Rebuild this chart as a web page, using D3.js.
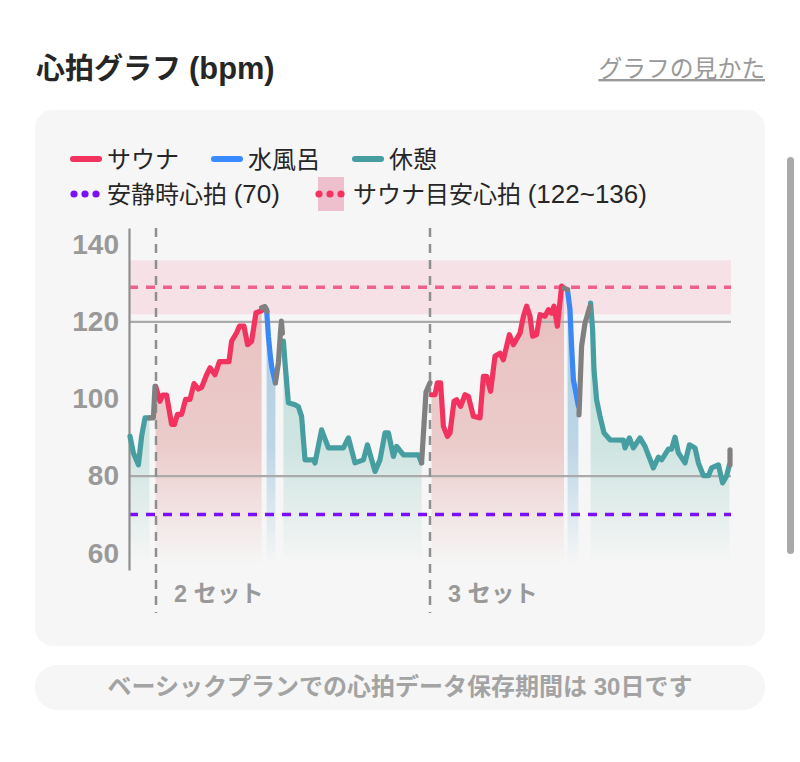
<!DOCTYPE html>
<html>
<head>
<meta charset="utf-8">
<script src="https://cdn.jsdelivr.net/npm/d3@7"></script>
<style>
  html, body { margin: 0; padding: 0; background: #fff; }
  svg { display: block; }
  text { font-family: "Liberation Sans", "Noto Sans CJK JP", sans-serif; }
</style>
</head>
<body>
<div id="chart"></div>
<script>
// values, t = elapsed time (2px per unit), bpm = heart rate
const rest1T = [0.5, 2.2, 4.7, 6.3, 8, 10.2];
const rest1Bpm = [90.3, 86, 82.9, 90.3, 95.1, 95.1];
const move1T = [10.2, 12.2, 13];
const move1Bpm = [95.1, 95.1, 103.3];
const sauna1T = [13.3, 15.5, 16.8, 18.8, 21.3, 22.7, 24.2, 26.3, 28.3, 30.5, 32.5, 34.7, 36.3, 38.8, 40.5, 43, 45.2, 50, 51.3, 53.8, 55.2, 57.5, 59.3, 61.3, 63.5, 66.3];
const sauna1Bpm = [103.3, 99.4, 101, 101, 93.4, 93.4, 96, 96, 99.9, 99.9, 104, 102.6, 103, 106.3, 108.1, 106.3, 109.7, 109.7, 115, 117.2, 118.9, 118.9, 114.1, 115, 122.4, 122.9];
const move2T = [66.3, 68, 69];
const move2Bpm = [123.7, 124, 122.8];
const bath1T = [68.8, 69.7, 70.5, 71.3, 73.2];
const bath1Bpm = [123.2, 116.3, 112, 108.5, 104.2];
const move3T = [73.2, 74.7, 75.7, 76.2, 76.7];
const move3Bpm = [104.2, 109.4, 117.1, 120.2, 117.1];
const rest2T = [77.2, 78, 79.7, 83, 84.7, 86.3, 88, 92.2, 93, 96.3, 99.7, 107.2, 109.7, 113, 117.2, 119.2, 123, 125.5, 128, 129.7, 132.2, 133.8, 137.2, 144.7, 146.3];
const rest2Bpm = [115, 109.4, 99, 98.5, 98, 95.5, 84.2, 84.2, 83.4, 92, 87.3, 87.3, 89.9, 83.4, 84.2, 88.1, 81.2, 84.2, 91.2, 91.2, 85.1, 87.7, 85.5, 85.5, 83.4];
const move4T = [146.3, 148.5, 150.5];
const move4Bpm = [83.4, 101.8, 104.2];
const sauna2T = [151.3, 153, 154.2, 155.8, 157.2, 159.2, 160.5, 162.5, 163.8, 165.8, 168, 169.7, 172.2, 175.5, 177.2, 178.8, 180.8, 183, 185.5, 187.2, 190.2, 192.2, 195.5, 197.2, 198.8, 200.5, 201.8, 203.8, 205.5, 208, 209.7, 211.3, 212.5, 214.2, 216.3, 217.5];
const sauna2Bpm = [101.1, 101.1, 104.2, 104.2, 92.9, 90.3, 91.2, 99.4, 99.8, 98.1, 101.1, 100.7, 95.5, 95.1, 105.9, 105.9, 102, 111.1, 111.9, 110.2, 116.7, 114.1, 117.1, 121.5, 124.1, 121.5, 116.3, 116.7, 121.9, 121.5, 123.2, 122.3, 124.1, 118.9, 129.3, 128.8];
const move5T = [217.5, 219.3];
const move5Bpm = [128.8, 128.4];
const bath2T = [219.3, 220.5, 221.3, 222.2, 224.7];
const bath2Bpm = [128, 123.2, 113.7, 105, 98.1];
const move6T = [225, 226.3, 228, 230.5];
const move6Bpm = [95.9, 113.7, 119.7, 124.1];
const rest3T = [230.8, 231.8, 232.5, 233.8, 235.5, 237.5, 240.5, 247.2, 248, 250.2, 252.2, 255.5, 258, 262.2, 264.7, 266.3, 269.7, 271.3, 273, 274.7, 278, 280.2, 283, 284.7, 287.2, 289.7, 291.3, 294.7, 296.8, 298.8, 300.2];
const rest3Bpm = [124.9, 118, 107.6, 99.8, 95.5, 91.2, 89.4, 89.3, 87.3, 89.9, 87.3, 89.9, 87.7, 82.1, 84.9, 84.2, 87, 87, 90.1, 86, 83.4, 88.1, 87.3, 83.4, 80.1, 80.1, 82.1, 82.9, 78.2, 80, 82.9];
const move7T = [300.5, 300.5];
const move7Bpm = [82.9, 86.8];

const yTicks = [60, 80, 100, 120, 140];
const gridBpm = [80, 120];
const restingBpm = 70;
const targetLow = 122, targetHigh = 136;
const setNames = ["2 セット", "3 セット"];
const setStarts = [13.5, 150.5];

const colors = { sauna: "#f23360", bath: "#3a87f5", rest: "#479ea1", move: "#808080" };
const fills = { sauna: "#e2aaa8", bath: "#8dbcd8", rest: "#aed6d0" };

const segments = [
  { kind: "rest", t: rest1T, bpm: rest1Bpm },
  { kind: "sauna", t: sauna1T, bpm: sauna1Bpm },
  { kind: "bath", t: bath1T, bpm: bath1Bpm },
  { kind: "rest", t: rest2T, bpm: rest2Bpm },
  { kind: "sauna", t: sauna2T, bpm: sauna2Bpm },
  { kind: "bath", t: bath2T, bpm: bath2Bpm },
  { kind: "rest", t: rest3T, bpm: rest3Bpm },
  { kind: "move", t: move1T, bpm: move1Bpm },
  { kind: "move", t: move2T, bpm: move2Bpm },
  { kind: "move", t: move3T, bpm: move3Bpm },
  { kind: "move", t: move4T, bpm: move4Bpm },
  { kind: "move", t: move5T, bpm: move5Bpm },
  { kind: "move", t: move6T, bpm: move6Bpm },
  { kind: "move", t: move7T, bpm: move7Bpm }
].map(s => ({ kind: s.kind, points: s.t.map((t, i) => ({ t: t, bpm: s.bpm[i] })) }));

const width = 800, height = 762;
const svg = d3.select("#chart").append("svg").attr("width", width).attr("height", height);

// page furniture
const title = svg.append("text").attr("x", 36).attr("y", 79).attr("font-size", 29).attr("font-weight", 700)
  .attr("fill", "#262626");
title.append("tspan").text("心拍グラフ ");
title.append("tspan").attr("font-size", 30.8).text("(bpm)");
svg.append("text").attr("x", 765).attr("y", 77).attr("text-anchor", "end").attr("font-size", 23.8)
  .attr("fill", "#999").attr("text-decoration", "underline").text("グラフの見かた");
svg.append("rect").attr("x", 35).attr("y", 110).attr("width", 730).attr("height", 536).attr("rx", 18).attr("fill", "#f6f6f6");
svg.append("rect").attr("x", 35).attr("y", 665).attr("width", 730).attr("height", 45).attr("rx", 22).attr("fill", "#f6f6f6");
svg.append("text").attr("x", 400).attr("y", 695).attr("text-anchor", "middle").attr("font-size", 24)
  .attr("font-weight", 700).attr("fill", "#a3a3a3").text("ベーシックプランでの心拍データ保存期間は 30日です");
svg.append("rect").attr("x", 787).attr("y", 157).attr("width", 7).attr("height", 397).attr("rx", 3.5).attr("fill", "#a9a9a9");

// scales
const x = d3.scaleLinear().domain([0, 301]).range([129, 731]);
const y = d3.scaleLinear().domain([55.6, 144.4]).range([570, 228]);

// gradients for area fills
const defs = svg.append("defs");
Object.keys(fills).forEach(k => {
  const g = defs.append("linearGradient").attr("id", "fill-" + k)
    .attr("gradientUnits", "userSpaceOnUse")
    .attr("x1", 0).attr("x2", 0).attr("y1", y(125)).attr("y2", y(57));
  g.append("stop").attr("offset", "0%").attr("stop-color", fills[k]).attr("stop-opacity", 0.7);
  g.append("stop").attr("offset", "55%").attr("stop-color", fills[k]).attr("stop-opacity", 0.55);
  g.append("stop").attr("offset", "100%").attr("stop-color", fills[k]).attr("stop-opacity", 0);
});

// target band
svg.append("rect")
  .attr("x", x.range()[0]).attr("width", x.range()[1] - x.range()[0])
  .attr("y", y(targetHigh)).attr("height", y(targetLow) - y(targetHigh))
  .attr("fill", "#f6e1e7");

const area = d3.area().x(d => x(d.t)).y0(y(57)).y1(d => y(d.bpm));
const line = d3.line().x(d => x(d.t)).y(d => y(d.bpm));

svg.selectAll(".area").data(segments.filter(s => s.kind !== "move")).enter()
  .append("path").attr("class", "area")
  .attr("d", d => area(d.points))
  .attr("fill", d => `url(#fill-${d.kind})`);

// grid lines
svg.selectAll(".grid").data(gridBpm).enter().append("line").attr("class", "grid")
  .attr("x1", x.range()[0]).attr("x2", x.range()[1])
  .attr("y1", d => y(d)).attr("y2", d => y(d))
  .attr("stroke", "#aaa").attr("stroke-width", 2.2);

// set separators
svg.selectAll(".setline").data(setStarts).enter().append("line").attr("class", "setline")
  .attr("x1", d => x(d)).attr("x2", d => x(d)).attr("y1", 228).attr("y2", 613)
  .attr("stroke", "#8f8f8f").attr("stroke-width", 2.5).attr("stroke-dasharray", "9 7");
svg.selectAll(".setlabel").data(setNames).enter().append("text").attr("class", "setlabel")
  .attr("x", (d, i) => x(setStarts[i]) + 18).attr("y", 602)
  .attr("font-size", 23.4).attr("font-weight", 700).attr("fill", "#999")
  .text(d => d);

// reference lines
svg.append("line").attr("x1", x.range()[0]).attr("x2", x.range()[1])
  .attr("y1", y((targetLow + targetHigh) / 2)).attr("y2", y((targetLow + targetHigh) / 2))
  .attr("stroke", "#f0608f").attr("stroke-width", 3.5).attr("stroke-dasharray", "9 8");
svg.append("line").attr("x1", x.range()[0]).attr("x2", x.range()[1])
  .attr("y1", y(restingBpm)).attr("y2", y(restingBpm))
  .attr("stroke", "#7a10f5").attr("stroke-width", 3.5).attr("stroke-dasharray", "9 8");

// y axis
const yAxis = svg.append("g").attr("transform", `translate(${x.range()[0]},0)`)
  .call(d3.axisLeft(y).tickValues(yTicks).tickSize(0).tickPadding(10).tickFormat(d3.format("d")));
yAxis.select(".domain").attr("stroke", "#8f8f8f").attr("stroke-width", 2.2);
yAxis.selectAll("text").attr("font-size", 28).attr("font-weight", 700).attr("fill", "#999")
  .style("font-family", '"Liberation Sans", sans-serif');

// heart rate lines
svg.selectAll(".hr").data(segments).enter().append("path").attr("class", "hr")
  .attr("d", d => line(d.points))
  .attr("fill", "none")
  .attr("stroke", d => colors[d.kind])
  .attr("stroke-width", 5.2)
  .attr("stroke-linejoin", "round")
  .attr("stroke-linecap", "round");

// legend
const legendLines = [
  { label: "サウナ", color: colors.sauna, x: 70, y: 159 },
  { label: "水風呂", color: "#3a8bff", x: 211, y: 159 },
  { label: "休憩", color: colors.rest, x: 352, y: 159 }
];
const lg = svg.append("g");
lg.selectAll(".key").data(legendLines).enter().append("line").attr("class", "key")
  .attr("x1", d => d.x + 3).attr("x2", d => d.x + 29).attr("y1", d => d.y).attr("y2", d => d.y)
  .attr("stroke", d => d.color).attr("stroke-width", 6).attr("stroke-linecap", "round");
lg.selectAll(".keytext").data(legendLines).enter().append("text").attr("class", "keytext")
  .attr("x", d => d.x + 37).attr("y", d => d.y + 9).attr("font-size", 24).attr("fill", "#262626").text(d => d.label);

lg.append("rect").attr("x", 318).attr("y", 177).attr("width", 26).attr("height", 34).attr("fill", "#eebfcd");
const legendDots = [
  { label: "安静時心拍 ", value: "(70)", color: "#7a10f5", x: 70, textX: 107 },
  { label: "サウナ目安心拍 ", value: "(122~136)", color: "#f23360", x: 315, textX: 353 }
];
legendDots.forEach(k => {
  lg.selectAll(null).data([0, 1, 2]).enter().append("circle")
    .attr("cx", i => k.x + 4 + i * 11).attr("cy", 194).attr("r", 3.6).attr("fill", k.color);
  const t = lg.append("text").attr("x", k.textX).attr("y", 203).attr("font-size", 24).attr("fill", "#262626");
  t.append("tspan").text(k.label);
  t.append("tspan").attr("font-size", 26).text(k.value);
});
</script>
</body>
</html>
